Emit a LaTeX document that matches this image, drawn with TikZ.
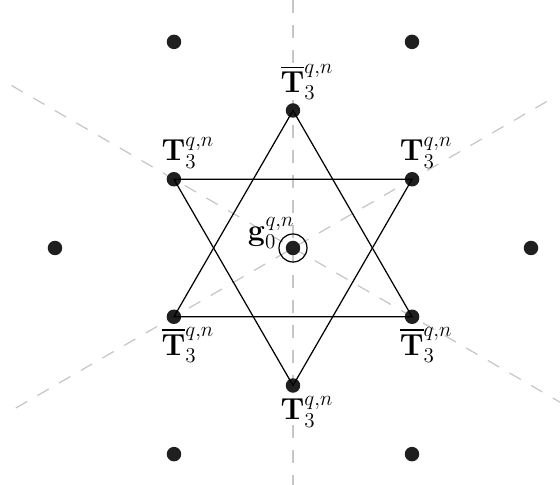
\documentclass[tikz,border=0pt]{standalone}
\usepackage{amsmath, amssymb}
\usepackage{mathtools}
\usepackage{tikz}
\usetikzlibrary{positioning}

\begin{document}
\begin{tikzpicture}[
  site/.style={circle, fill=black!88, inner sep=0pt, minimum size=2.9mm},
  ring/.style={circle, draw, line width=0.7pt, inner sep=0pt, minimum size=5.6mm},
  axis/.style={gray!45, line width=0.7pt, dash pattern=on 2.6mm off 2.4mm},
  bond/.style={line width=0.7pt},
  lbl/.style={font=\fontsize{17}{20}\selectfont, inner sep=1pt}
]
\useasboundingbox (-5.86,-4.74) rectangle (5.34,4.96);

% Axes
\coordinate (ax1) at (0,4.96);
\coordinate (ax2) at (0,-4.74);
\coordinate (ax3) at (150:6.5);
\coordinate (ax4) at (330:6.5);
\coordinate (ax5) at (210:6.4);
\coordinate (ax6) at (30:6.0);
\draw[axis] (ax1) -- (ax2);
\draw[axis] (ax3) -- (ax4);
\draw[axis] (ax5) -- (ax6);

% Inner sites
\node[site] (t1) at (90:2.75) {};
\node[site] (t2) at (210:2.75) {};
\node[site] (t3) at (330:2.75) {};
\node[site] (u1) at (270:2.75) {};
\node[site] (u2) at (150:2.75) {};
\node[site] (u3) at (30:2.75) {};

% Outer sites
\node[site] (o1) at (0:4.76) {};
\node[site] (o2) at (60:4.76) {};
\node[site] (o3) at (120:4.76) {};
\node[site] (o4) at (180:4.76) {};
\node[site] (o5) at (240:4.76) {};
\node[site] (o6) at (300:4.76) {};

% Triangles
\draw[bond] (t1.center) -- (t2.center) -- (t3.center) -- cycle;
\draw[bond] (u1.center) -- (u2.center) -- (u3.center) -- cycle;

% Centre
\node[site] (g0) at (0,0) {};
\node[ring] (rg) at (g0) {};
\node[lbl, anchor=base east, yshift=1.4mm, inner sep=1pt] (g0lbl) at (rg.west) {$\mathbf{g}_0^{\mathrlap{q,n}}$};

% Labels
\node[lbl, above=0.5pt of t1] (t1lbl) {$\overline{\mathbf{T}}_{\mathrlap{3}}^{\mathrlap{q,n}}$};
\node[lbl, below=0.5pt of t2] (t2lbl) {$\overline{\mathbf{T}}_{\mathrlap{3}}^{\mathrlap{q,n}}$};
\node[lbl, below=0.5pt of t3] (t3lbl) {$\overline{\mathbf{T}}_{\mathrlap{3}}^{\mathrlap{q,n}}$};
\node[lbl, below=0.5pt of u1] (u1lbl) {$\mathbf{T}_{\mathrlap{3}}^{\mathrlap{q,n}}$};
\node[lbl, above=0.5pt of u2] (u2lbl) {$\mathbf{T}_{\mathrlap{3}}^{\mathrlap{q,n}}$};
\node[lbl, above=0.5pt of u3] (u3lbl) {$\mathbf{T}_{\mathrlap{3}}^{\mathrlap{q,n}}$};
\end{tikzpicture}
\end{document}
